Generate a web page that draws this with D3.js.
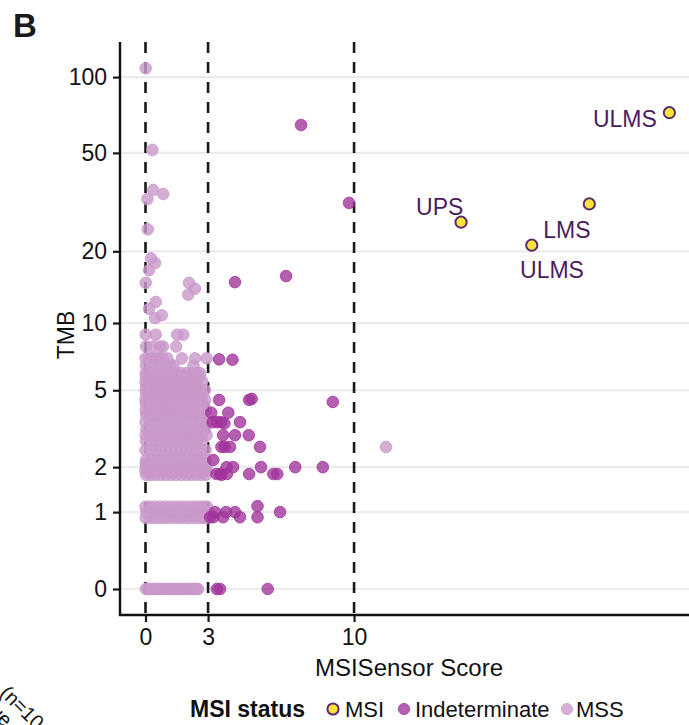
<!DOCTYPE html>
<html><head><meta charset="utf-8">
<script src="https://cdn.jsdelivr.net/npm/d3@7"></script>
<style>body{margin:0;background:#fff}svg{display:block}text{font-family:"Liberation Sans",Arial,Helvetica,sans-serif}</style>
</head><body><svg id="c" width="689" height="725"></svg>
<script>
// ---------- data ----------
const xTickValues = [0, 3, 10];
const yTickValues = [0, 1, 2, 5, 10, 20, 50, 100];
const yTickLabels = ["0", "1", "2", "5", "10", "20", "50", "100"];
const thresholds = [0, 3, 10];

const msiScore = [25.12, 21.28, 15.13, 18.52];
const msiTMB = [72.3, 31.2, 26.3, 21.2];
const msiLabel = ["ULMS", "LMS", "UPS", "ULMS"];

const indScore = [7.46, 9.76, 6.74, 4.29, 3.53, 4.17, 3.53, 4.97, 5.09, 8.98, 3.15, 3.97,
  3.22, 3.42, 3.62, 4.53, 3.78, 3.72, 4.29, 4.95, 3.64, 3.8, 4.05, 5.49, 3.25,
  3.89, 4.2, 5.54, 7.18, 8.5, 3.4, 3.57, 3.64, 3.9, 4.97, 6.13, 6.32, 5.37,
  3.33, 3.86, 4.29, 6.45, 3.1, 3.25, 3.72, 4.53, 5.37, 3.42, 3.57, 5.86];
const indTMB = [64.6, 31.5, 15.8, 14.9, 6.93, 6.9, 4.5, 4.5, 4.55, 4.4, 3.9, 3.9,
  3.5, 3.5, 3.5, 3.5, 3.45, 3.0, 3.0, 3.0, 2.6, 2.6, 2.6, 2.6, 2.2,
  2.0, 2.0, 2.0, 2.0, 2.0, 1.82, 1.82, 1.8, 1.82, 1.82, 1.82, 1.82, 1.11,
  1.0, 1.0, 1.0, 1.0, 0.91, 0.91, 0.91, 0.91, 0.91, 0, 0, 0];

const mssExtraScore = [0.01, 0.33, 0.37, 0.85, 0.09, 0.11, 0.26, 0.46, 0.17, 0.01, 2.09, 2.37, 2.05, 0.49, 0.17, 0.46, 0.78, 11.53];
const mssExtraTMB = [108.3, 51.4, 35.5, 34.2, 32.6, 24.6, 18.7, 17.9, 16.7, 14.8, 14.8, 14.0, 13.2, 12.3, 11.5, 10.5, 10.8, 2.6];

const mssRowTMB = [0, 0.9, 1, 1.1, 1.8, 1.9, 2, 2.1, 2.2, 2.5, 2.8, 3, 3.2, 3.5, 3.8, 4, 4.3, 4.5, 4.8, 5, 5.3, 5.5, 5.8, 6, 6.5, 7, 7.9, 8.9];
const mssRowScores = [
  [0.02,0.11,0.18,0.3,0.41,0.49,0.57,0.7,0.83,0.9,0.99,1.1,1.22,1.3,1.38,1.5,1.61,1.7,1.79,1.92,2.04,2.12,2.21,2.3,2.38,2.46,2.52],
  [0.01,0.23,0.47,0.7,0.92,1.15,1.41,1.63,1.88,2.1,2.36,2.58,2.79,2.93],
  [0.04,0.28,0.52,0.77,1.01,1.26,1.49,1.74,1.97,2.21,2.44,2.68,2.88,3.0],
  [0.0,0.21,0.45,0.69,0.94,1.18,1.43,1.66,1.9,2.15,2.4,2.62,2.81,2.95],
  [0.03,0.26,0.5,0.74,0.99,1.23,1.46,1.7,1.95,2.18,2.43,2.66,2.9],
  [0.0,0.24,0.48,0.71,0.95,1.2,1.44,1.68,1.91,2.16,2.39,2.62,2.84,2.97],
  [0.02,0.27,0.5,0.75,0.98,1.22,1.47,1.71,1.94,2.19,2.42,2.67,2.91],
  [0.01,0.25,0.49,0.72,0.97,1.21,1.45,1.69,1.93,2.17,2.4,2.64,2.85],
  [0.03,0.29,0.53,0.78,1.02,1.27,1.5,1.75,1.99,2.23,2.47,2.7,2.9],
  [0.0,0.24,0.48,0.73,0.97,1.21,1.46,1.7,1.95,2.19,2.43,2.67,2.88],
  [0.02,0.26,0.51,0.75,1.0,1.24,1.48,1.73,1.97,2.22,2.46,2.7],
  [0.01,0.25,0.49,0.74,0.98,1.23,1.47,1.72,1.96,2.2,2.45,2.69,2.93],
  [0.04,0.28,0.52,0.77,1.01,1.25,1.5,1.74,1.99,2.23,2.47,2.71,2.86],
  [0.0,0.24,0.48,0.73,0.97,1.21,1.46,1.7,1.94,2.19,2.43,2.67,2.92],
  [0.03,0.27,0.51,0.76,1.0,1.24,1.49,1.73,1.98,2.22,2.46,2.72],
  [0.01,0.25,0.5,0.74,0.98,1.23,1.47,1.72,1.96,2.2,2.45,2.69,2.9],
  [0.02,0.26,0.5,0.75,0.99,1.23,1.48,1.72,1.97,2.21,2.5,2.75],
  [0.0,0.24,0.49,0.73,0.97,1.22,1.46,1.71,1.95,2.19,2.44,2.68,2.86],
  [0.03,0.27,0.52,0.76,1.0,1.25,1.49,1.74,1.98,2.22,2.47,2.7],
  [0.01,0.25,0.49,0.74,0.98,1.22,1.47,1.71,1.96,2.2,2.44,2.66,2.85],
  [0.02,0.26,0.51,0.75,0.99,1.24,1.48,1.73,1.97,2.21,2.45],
  [0.0,0.24,0.48,0.72,0.97,1.21,1.45,1.7,1.94,2.18,2.43,2.72],
  [0.03,0.27,0.51,0.76,1.0,1.24,1.49,1.73,2.05,2.3,2.6],
  [0.01,0.25,0.49,0.74,0.98,1.22,1.47,1.71,1.96,2.2,2.45,2.62],
  [0.02,0.26,0.5,0.75,0.99,1.2,1.35,2.3],
  [0.0,0.17,0.33,0.5,0.66,0.82,1.05,1.75,2.37,2.93],
  [0.03,0.36,0.7,0.84,1.47],
  [0.01,0.49,1.52,1.81]
];
const legendTitle = "MSI status";
const legendKeys = ["MSI", "Indeterminate", "MSS"];

// ---------- drawing ----------
const svg = d3.select("#c");
const pL = 120, pR = 689, pT = 42, pB = 615;
const x = d3.scaleLinear().domain([-1.223, 26.06]).range([pL, pR]);
const tr = v => Math.log10(v + 1);
const yLin = d3.scaleLinear().domain([tr(-0.209), tr(137.6)]).range([pB, pT]);
const y = v => yLin(tr(v));

const col = {MSI: "#fde23e", Ind: "#a0329a", MSS: "#c998c9", MSIstroke: "#5a2e6e", lab: "#4a1c5e"};

// gridlines
svg.append("g").selectAll("line").data(yTickValues).join("line")
  .attr("x1", pL).attr("x2", pR).attr("y1", d => y(d)).attr("y2", d => y(d))
  .attr("stroke", "#ebebeb").attr("stroke-width", 2.2);

// threshold dashed lines
svg.append("g").selectAll("line").data(thresholds).join("line")
  .attr("x1", d => x(d)).attr("x2", d => x(d)).attr("y1", pT).attr("y2", pB)
  .attr("stroke", "#1a1a1a").attr("stroke-width", 2.6).attr("stroke-dasharray", "11,9");

// MSS points
const mssPts = [];
mssRowTMB.forEach((t, i) => mssRowScores[i].forEach(s => mssPts.push([s, t])));
mssExtraScore.forEach((s, i) => mssPts.push([s, mssExtraTMB[i]]));
svg.append("g").selectAll("circle").data(mssPts).join("circle")
  .attr("cx", d => x(d[0])).attr("cy", d => y(d[1])).attr("r", 5.8)
  .attr("fill", col.MSS).attr("fill-opacity", 0.8)
  .attr("stroke", col.MSS).attr("stroke-opacity", 0.8).attr("stroke-width", 1);

// Indeterminate
svg.append("g").selectAll("circle").data(indScore.map((s, i) => [s, indTMB[i]])).join("circle")
  .attr("cx", d => x(d[0])).attr("cy", d => y(d[1])).attr("r", 5.8)
  .attr("fill", col.Ind).attr("fill-opacity", 0.78)
  .attr("stroke", col.Ind).attr("stroke-opacity", 0.78).attr("stroke-width", 1);

// MSI
const msi = msiScore.map((s, i) => ({s, t: msiTMB[i], l: msiLabel[i]}));
svg.append("g").selectAll("circle").data(msi).join("circle")
  .attr("cx", d => x(d.s)).attr("cy", d => y(d.t)).attr("r", 5.6)
  .attr("fill", col.MSI).attr("stroke", col.MSIstroke).attr("stroke-width", 2);
const labOff = [[-12.6, 14, "end"], [-46, 34, "start"], [-45, -7, "start"], [-11.7, 33, "start"]];
svg.append("g").selectAll("text").data(msi).join("text")
  .attr("x", (d, i) => x(d.s) + labOff[i][0]).attr("y", (d, i) => y(d.t) + labOff[i][1])
  .attr("text-anchor", (d, i) => labOff[i][2])
  .attr("font-size", 23).attr("fill", col.lab).text(d => d.l);

// axes
const yAxis = d3.axisLeft(yLin).tickValues(yTickValues.map(tr))
  .tickFormat((d, i) => yTickLabels[i]).tickSize(7).tickPadding(6);
const gy = svg.append("g").attr("transform", `translate(${pL},0)`).call(yAxis);
const xAxis = d3.axisBottom(x).tickValues(xTickValues).tickSize(7).tickPadding(6);
const gx = svg.append("g").attr("transform", `translate(0,${pB})`).call(xAxis);
[gx, gy].forEach(g => {
  g.select(".domain").remove();
  g.selectAll(".tick line").attr("stroke", "#1a1a1a").attr("stroke-width", 2.2);
  g.selectAll(".tick text").attr("font-size", 23).attr("fill", "#111")
    .attr("font-family", '"Liberation Sans",Arial,sans-serif');
});
gx.selectAll(".tick text").attr("dy", "0.72em");
svg.append("line").attr("x1", pL).attr("x2", pL).attr("y1", pT).attr("y2", pB + 1)
  .attr("stroke", "#111").attr("stroke-width", 2.4);
svg.append("line").attr("x1", pL - 1).attr("x2", pR).attr("y1", pB).attr("y2", pB)
  .attr("stroke", "#111").attr("stroke-width", 2.4);

// titles
svg.append("text").attr("x", 409).attr("y", 676).attr("text-anchor", "middle")
  .attr("font-size", 24).attr("fill", "#111").text("MSISensor Score");
svg.append("text").attr("transform", "translate(74,335) rotate(-90)").attr("text-anchor", "middle")
  .attr("font-size", 23).attr("fill", "#111").text("TMB");
svg.append("text").attr("x", 13).attr("y", 37).attr("font-size", 33).attr("font-weight", "bold")
  .attr("fill", "#1a1a1a").text("B");

// clipped text from neighbouring panel (cut off by the page edge, as in the reference)
svg.append("text").attr("transform", "translate(-1,694) rotate(45)").attr("font-size", 20)
  .attr("fill", "#111").text("(n=104)");
svg.append("text").attr("transform", "translate(-37,687) rotate(45)").attr("font-size", 20)
  .attr("fill", "#111").text("Tissue");

// legend
const ly = 717;
svg.append("text").attr("x", 190).attr("y", ly).attr("font-size", 23).attr("font-weight", "bold")
  .attr("fill", "#111").text(legendTitle);
const keyX = [333, 404, 567], keyTx = [345, 415, 576];
const lg = svg.append("g").selectAll("g").data(legendKeys).join("g");
lg.append("circle").attr("cx", (d, i) => keyX[i]).attr("cy", ly - 8).attr("r", 5.6)
  .attr("fill", (d, i) => [col.MSI, col.Ind, col.MSS][i])
  .attr("fill-opacity", (d, i) => i ? 0.78 : 1)
  .attr("stroke", (d, i) => [col.MSIstroke, col.Ind, col.MSS][i])
  .attr("stroke-opacity", (d, i) => i ? 0.78 : 1)
  .attr("stroke-width", (d, i) => i ? 1 : 2);
lg.append("text").attr("x", (d, i) => keyTx[i]).attr("y", ly).attr("font-size", 22)
  .attr("fill", "#111").text(d => d);
</script></body></html>
